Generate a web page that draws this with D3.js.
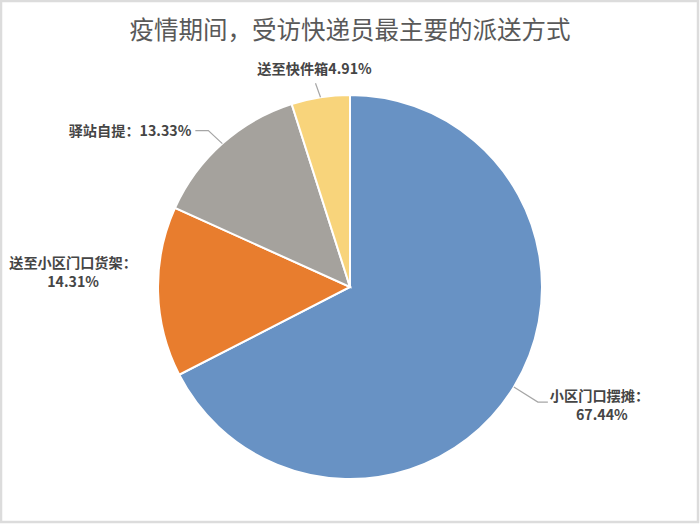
<!DOCTYPE html>
<html>
<head>
<meta charset="utf-8">
<script src="https://cdn.jsdelivr.net/npm/d3@7"></script>
<style>
  body { margin: 0; background: #fff; }
  svg { display: block; }
</style>
</head>
<body>
<div id="main"></div>
<script>
// data
var categories = ["小区门口摆摊", "送至小区门口货架", "驿站自提", "送至快件箱"];
var values = [67.44, 14.31, 13.33, 4.91];
var labelNames = ["小区门口摆摊：", "送至小区门口货架：", "驿站自提：", "送至快件箱"];
var colors = ["#6892c4", "#e87d2e", "#a5a29d", "#f8d47b"];

var w = 700, h = 524;
var cx = 350, cy = 287, r = 192;

var svg = d3.select("#main")
  .append("svg")
  .attr("width", w)
  .attr("height", h);

// faint frame round the picture
svg.append("rect")
  .attr("x", 1).attr("y", 1)
  .attr("width", w - 3).attr("height", h - 3)
  .attr("fill", "#fff")
  .attr("stroke", "#dcdcdc")
  .attr("stroke-width", 2.5);

svg.append("text")
  .attr("x", 350)
  .attr("y", 39)
  .attr("text-anchor", "middle")
  .attr("font-family", "'Noto Sans CJK SC', sans-serif")
  .attr("font-size", 24.5)
  .attr("fill", "#595959")
  .text("疫情期间，受访快递员最主要的派送方式");

var pie = d3.pie().sort(null).value(function(d) { return d; });
var arcs = pie(values);
var arc = d3.arc().innerRadius(0).outerRadius(r);

var g = svg.append("g").attr("transform", "translate(" + cx + "," + cy + ")");

g.selectAll("path")
  .data(arcs)
  .enter()
  .append("path")
  .attr("d", arc)
  .attr("fill", function(d, i) { return colors[i]; })
  .attr("stroke", "#fff")
  .attr("stroke-width", 2);

// point on the rim at the middle of each slice
function rim(d, k) {
  var a = (d.startAngle + d.endAngle) / 2;
  return [Math.sin(a) * r * k, -Math.cos(a) * r * k];
}

var font = "'Noto Sans CJK SC', sans-serif";
var txtColor = "#454545";
var fs = 14.2;

// label layout: leader bends, offsets from rim point
var lab = [
  { bend: [24, 15], end: [34, 15], tx: 36, ty: 14, anchor: "start", twoLine: true, line2dx: 52 },
  { bend: null, tx: -85, ty: -24, anchor: "middle", twoLine: true, line2dx: 0 },
  { bend: [-14, -13], end: [-27, -13], tx: -31, ty: -8, anchor: "end", twoLine: false },
  { bend: null, end: [-5, -14], tx: -6, ty: -23, anchor: "middle", twoLine: false }
];

arcs.forEach(function(d, i) {
  var p = rim(d, 1);
  var L = lab[i];
  var pct = d3.format(".2f")(values[i]) + "%";
  if (L.end) {
    var pts = [p];
    if (L.bend) pts.push([p[0] + L.bend[0], p[1] + L.bend[1]]);
    pts.push([p[0] + L.end[0], p[1] + L.end[1]]);
    g.append("path")
      .attr("d", d3.line()(pts))
      .attr("fill", "none")
      .attr("stroke", "#a6a6a6")
      .attr("stroke-width", 1.2);
  }
  var t = g.append("text")
    .attr("font-family", font)
    .attr("font-size", fs)
    .attr("font-weight", "bold")
    .attr("fill", txtColor)
    .attr("text-anchor", L.anchor)
    .attr("x", p[0] + L.tx)
    .attr("y", p[1] + L.ty);
  if (L.twoLine) {
    t.append("tspan").text(labelNames[i]);
    t.append("tspan")
      .attr("text-anchor", "middle")
      .attr("x", p[0] + L.tx + L.line2dx)
      .attr("dy", 19)
      .text(pct);
  } else {
    t.text(labelNames[i] + pct);
  }
});
</script>
</body>
</html>
